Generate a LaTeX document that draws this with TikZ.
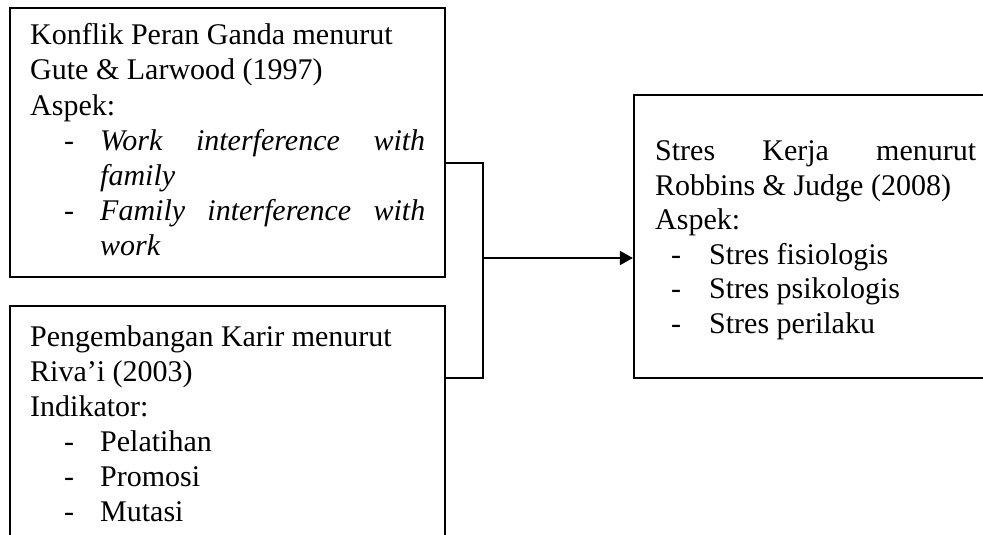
\documentclass[tikz,border=0pt]{standalone}
\usepackage{fontspec}
\setmainfont{Liberation Serif}
\usetikzlibrary{arrows.meta}
\begin{document}
\begin{tikzpicture}[x=1pt,y=-1pt,
  boxnode/.style={draw, line width=2.2pt, rectangle, inner sep=0pt, fill=white},
  txt/.style={anchor=base west, inner sep=0pt, font=\fontsize{30}{35}\selectfont},
  conn/.style={line width=1.8pt}]
\useasboundingbox (0,0) rectangle (983,535);
\clip (0,0) rectangle (983,535);
% boxes
\node[boxnode, minimum width=435pt, minimum height=269pt] (b1) at (227.5,142.5) {};
\node[boxnode, minimum width=435pt, minimum height=254pt] (b2) at (227.5,433) {};
\node[boxnode, minimum width=376pt, minimum height=283pt] (b3) at (822,236.5) {};
% box 1 text
\node[txt] (a1) at (30,45) {Konflik Peran Ganda menurut};
\node[txt] (a2) at (30,80) {Gute \& Larwood (1997)};
\node[txt] (a3) at (30,115) {Aspek:};
\node[txt] (a4d) at (64,150) {-};
\node[txt] (a4) at (100,150) {\hbox to 325pt{\itshape Work\hfill interference\hfill with}};
\node[txt] (a5) at (100,185) {\itshape family};
\node[txt] (a6d) at (64,220) {-};
\node[txt] (a6) at (100,220) {\hbox to 325pt{\itshape Family\hfill interference\hfill with}};
\node[txt] (a7) at (100,255) {\itshape work};
% box 2 text
\node[txt] (c1) at (30,346) {Pengembangan Karir menurut};
\node[txt] (c2) at (30,381) {Riva’i (2003)};
\node[txt] (c3) at (30,416) {Indikator:};
\node[txt] (c4d) at (64,451) {-};
\node[txt] (c4) at (100,451) {Pelatihan};
\node[txt] (c5d) at (64,486) {-};
\node[txt] (c5) at (100,486) {Promosi};
\node[txt] (c6d) at (64,521) {-};
\node[txt] (c6) at (100,521) {Mutasi};
% box 3 text
\node[txt] (d1) at (655,160) {\hbox to 321pt{Stres\hfill Kerja\hfill menurut}};
\node[txt] (d2) at (655,195) {Robbins \& Judge (2008)};
\node[txt] (d3) at (655,229) {Aspek:};
\node[txt] (d4d) at (671,264) {-};
\node[txt] (d4) at (709,264) {Stres fisiologis};
\node[txt] (d5d) at (671,298) {-};
\node[txt] (d5) at (709,298) {Stres psikologis};
\node[txt] (d6d) at (671,333) {-};
\node[txt] (d6) at (709,333) {Stres perilaku};
% connectors
\coordinate (j1) at (483,163);
\coordinate (j2) at (483,378);
\coordinate (jm) at (483,258);
\draw[conn] (j1 -| b1.east) -- (j1) -- (j2) -- (j2 -| b2.east);
\draw[conn, -{Triangle[length=13pt,width=14pt]}] (jm) -- (jm -| b3.west);
\end{tikzpicture}
\end{document}
